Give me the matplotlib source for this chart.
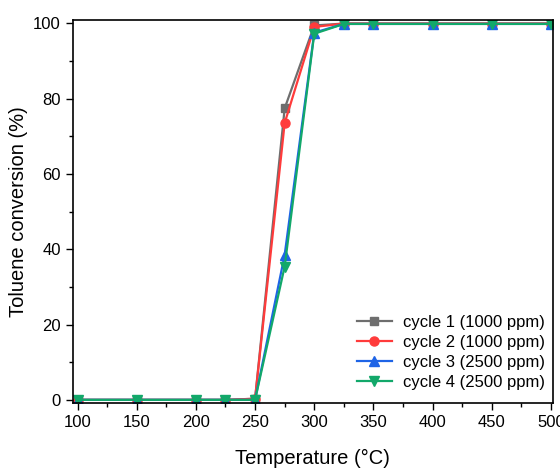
import matplotlib.pyplot as plt
from matplotlib.ticker import MultipleLocator

plt.rcParams['font.family'] = ['Liberation Sans', 'DejaVu Sans']

temperature = [100, 150, 200, 225, 250, 275, 300, 325, 350, 400, 450, 500]
cycle1 = [0, 0, 0, 0, 0.3, 77.4, 99.4, 99.9, 99.9, 99.9, 99.9, 99.9]
cycle2 = [0, 0, 0, 0, 0.3, 73.5, 99.0, 99.9, 99.9, 99.9, 99.9, 99.9]
cycle3 = [0, 0, 0, 0, 0, 38.5, 97.5, 99.8, 99.8, 99.8, 99.8, 99.8]
cycle4 = [0, 0, 0, 0, 0, 35.4, 97.2, 99.8, 99.8, 99.8, 99.8, 99.8]
labels = ['cycle 1 (1000 ppm)', 'cycle 2 (1000 ppm)', 'cycle 3 (2500 ppm)', 'cycle 4 (2500 ppm)']

fig = plt.figure(figsize=(5.6, 4.69), dpi=100)
ax = fig.add_axes([0.130, 0.141, 0.8575, 0.816])

styles = [('#6E6E6E', 's', 6), ('#FF3B3B', 'o', 6.5), ('#1E64E6', '^', 7), ('#12A86A', 'v', 7)]
for ys, lab, (c, m, ms) in zip([cycle1, cycle2, cycle3, cycle4], labels, styles):
    ax.plot(temperature, ys, color=c, marker=m, markersize=ms, linewidth=1.6, label=lab)

ax.set_xlim(96, 501.7)
ax.set_ylim(-0.8, 100.8)
ax.xaxis.set_major_locator(MultipleLocator(50))
ax.xaxis.set_minor_locator(MultipleLocator(25))
ax.yaxis.set_major_locator(MultipleLocator(20))
ax.yaxis.set_minor_locator(MultipleLocator(10))
ax.tick_params(which='major', direction='out', length=5, width=1, labelsize=12, pad=3.5)
ax.tick_params(which='minor', direction='out', length=3, width=1)
for s in ax.spines.values():
    s.set_linewidth(1.2)

ax.set_xlabel('Temperature (°C)', fontsize=14.5, labelpad=14)
ax.set_ylabel('Toluene conversion (%)', fontsize=14.5, labelpad=4)

ax.legend(loc='lower right', frameon=False, fontsize=12, handlelength=2.1,
          handletextpad=0.7, labelspacing=0.3, bbox_to_anchor=(1.015, -0.005))

fig.savefig('out.png', dpi=100)
